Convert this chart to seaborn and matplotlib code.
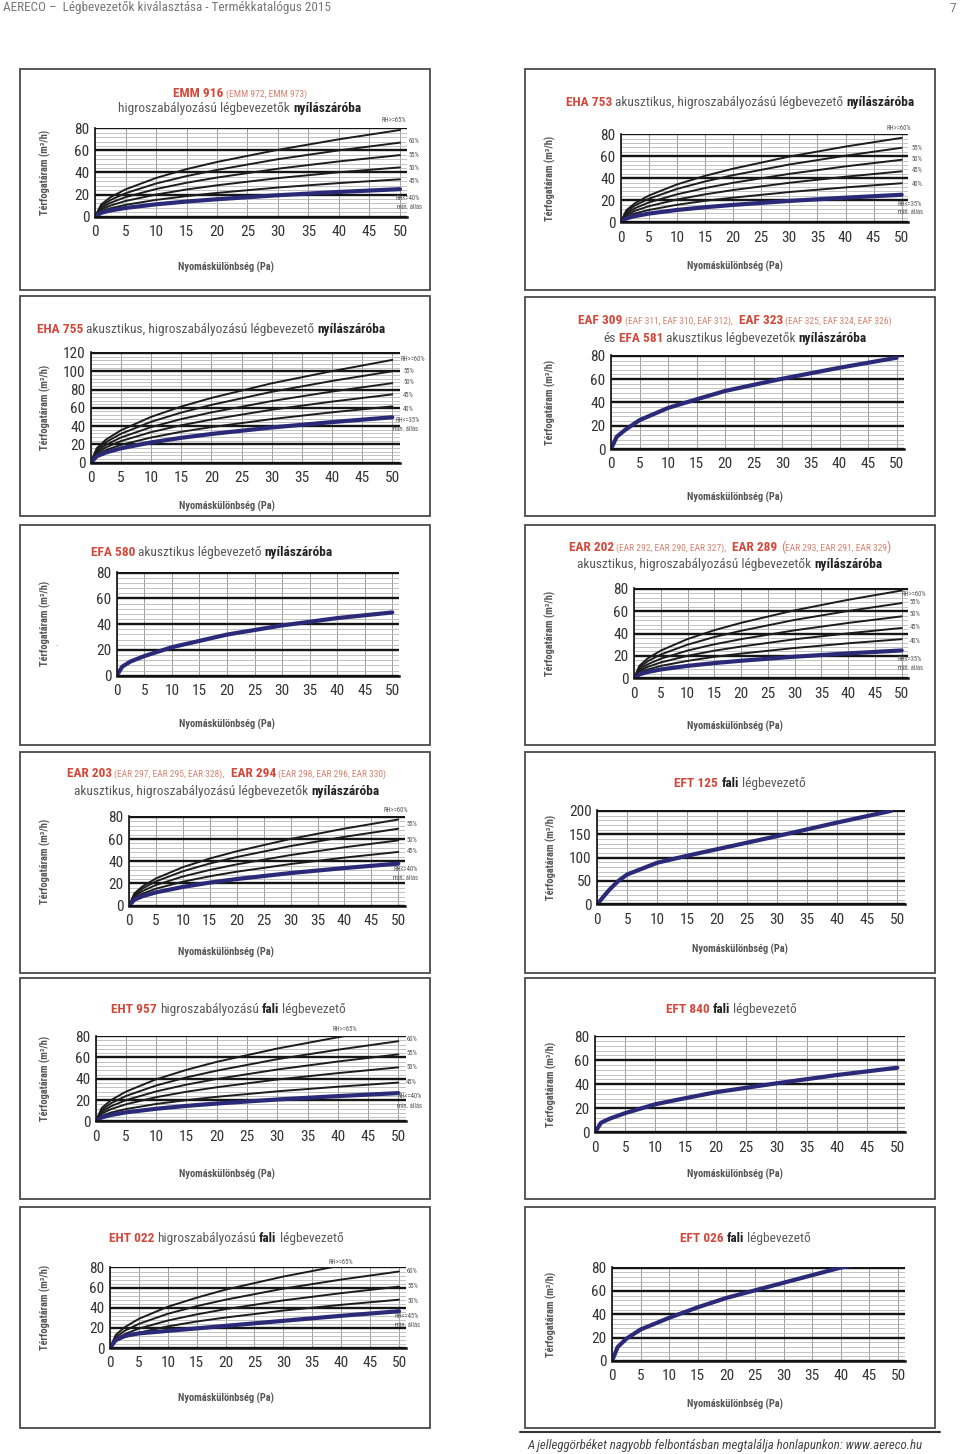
#!/usr/bin/env python
'''
Aereco catalogue page 7: airflow vs pressure difference curves of the air inlets.
'''
import matplotlib
matplotlib.use('Agg')
import matplotlib.pyplot as plt
from matplotlib import font_manager
from matplotlib.lines import Line2D
from matplotlib.patches import Rectangle
from matplotlib.ticker import MultipleLocator
import seaborn as sns

W, H = 960, 1454

P = [0, 1, 2.5, 5, 10, 15, 20, 30, 40, 50]

# EMM 916
EMM916_BLACK = [[0, 11, 17.5, 24.7, 35, 43, 49.5, 60.5, 70, 78.4],
                [0, 9.5, 15, 21.2, 30, 36.7, 42.3, 52, 60, 67],
                [0, 7.9, 12.5, 17.7, 25, 30.7, 35.4, 43.4, 50, 55.7],
                [0, 6.4, 10, 14.2, 20, 24.6, 28.4, 34.9, 40.2, 44.6],
                [0, 4.8, 7.6, 10.7, 15.2, 18.6, 21.5, 26.4, 30.4, 33.8]]
EMM916_BLUE = [0, 3.5, 5.6, 7.9, 11.2, 13.7, 15.8, 19.4, 22.4, 24.9]
EMM916_TAGS = ['RH>=65%', '60%', '55%', '50%', '45%', 'RH<=40%', 'min. állás']

# EHA 753
EHA753_BLACK = [[0, 10.9, 17.2, 24.3, 34.4, 42.2, 48.7, 59.7, 68.8, 76.7],
                [0, 9.5, 15.2, 21.4, 30.3, 37.1, 42.8, 52.5, 60.5, 67.7],
                [0, 8, 12.7, 18, 25.4, 31.1, 35.9, 44, 50.8, 56.8],
                [0, 6.5, 10.4, 14.6, 20.7, 25.4, 29.3, 35.9, 41.4, 46.3],
                [0, 5, 8, 11.2, 15.9, 19.5, 22.4, 27.5, 31.7, 35.5]]
EHA753_BLUE = [0, 3.5, 5.6, 7.9, 11.2, 13.7, 15.8, 19.4, 22.4, 25]
EHA753_TAGS = ['RH>=60%', '55%', '50%', '45%', '40%', 'RH<=35%', 'min. állás']

# EHA 755
EHA755_BLACK = [[0, 15.8, 25.1, 35.4, 50.1, 61.4, 70.8, 86.8, 100.1, 112.4],
                [0, 14.1, 22.4, 31.6, 44.7, 54.8, 63.2, 77.5, 89.4, 100],
                [0, 12.3, 19.5, 27.5, 38.9, 47.7, 55, 67.4, 77.8, 87],
                [0, 10.5, 16.7, 23.6, 33.4, 40.9, 47.2, 57.9, 66.8, 74.7],
                [0, 8.7, 13.8, 19.5, 27.5, 33.8, 38.9, 47.7, 55.1, 61.6]]
EHA755_BLUE = [0, 7, 11.1, 15.7, 22.2, 27.2, 31.4, 38.5, 44.4, 49.7]
EHA755_TAGS = ['RH>=60%', '55%', '50%', '45%', '40%', 'RH<=35%', 'min. állás']

# EAF 309 / EAF 323 / EFA 581
EAF309_BLUE = [0, 10.5, 16.5, 24.8, 35.3, 42.7, 49.9, 60.4, 69.8, 78.4]

# EFA 580
EFA580_BLUE = [0, 7, 11, 15.2, 22.1, 27, 31.9, 39, 44.7, 49.1]

# EAR 202 / EAR 289
EAR202_BLACK = [[0, 11.1, 17.6, 24.8, 35.1, 43, 49.6, 60.8, 70.2, 78.5],
                [0, 9.5, 15.1, 21.3, 30.1, 36.9, 42.5, 52.2, 60.2, 67.3],
                [0, 7.8, 12.4, 17.5, 24.8, 30.4, 35, 42.9, 49.5, 55.4],
                [0, 6.4, 10.1, 14.2, 20.1, 24.7, 28.4, 34.9, 40.2, 45],
                [0, 4.9, 7.8, 11.1, 15.6, 19.2, 22.1, 27.1, 31.3, 35]]
EAR202_BLUE = [0, 3.5, 5.6, 7.9, 11.1, 13.6, 15.7, 19.3, 22.3, 24.9]
EAR202_TAGS = ['RH>=60%', '55%', '50%', '45%', '40%', 'RH<=35%', 'min. állás']

# EAR 203 / EAR 294
EAR203_BLACK = [[0, 11, 17.4, 24.5, 34.7, 42.5, 49, 60.1, 69.4, 77.6],
                [0, 9.8, 15.5, 21.9, 31, 38, 43.8, 53.7, 62, 69.3],
                [0, 8.3, 13.2, 18.6, 26.3, 32.2, 37.2, 45.6, 52.6, 58.8],
                [0, 6.8, 10.8, 15.3, 21.6, 26.5, 30.6, 37.5, 43.3, 48.4]]
EAR203_BLUE = [0, 5.4, 8.5, 12, 16.9, 20.8, 24, 29.4, 33.9, 37.9]
EAR203_TAGS = ['RH>=60%', '55%', '50%', '45%', 'RH<=40%', 'min. állás']

# EFT 125 (read at its own pressure points, curve stops at 49 Pa)
EFT125_P = [0, 1, 2, 3.5, 5, 10, 15, 20, 30, 40, 49]
EFT125_BLUE = [0, 16, 31, 50, 64, 89, 104, 118, 146, 175, 200]

# EHT 957
EHT957_BLACK = [[0, 12.5, 19.8, 27.9, 39.5, 48.4, 55.9, 68.4, 79, 88.3],
                [0, 10.6, 16.9, 23.8, 33.7, 41.3, 47.6, 58.4, 67.3, 75.3],
                [0, 8.9, 14.1, 19.9, 28.1, 34.5, 39.8, 48.7, 56.2, 62.9],
                [0, 7.2, 11.4, 16, 22.7, 27.8, 32, 39.3, 45.3, 50.7],
                [0, 5.1, 8.2, 11.5, 16.3, 19.9, 23, 28.2, 32.5, 36.4]]
EHT957_BLUE = [0, 3.7, 5.9, 8.4, 11.8, 14.5, 16.7, 20.5, 23.7, 26.5]
EHT957_TAGS = ['RH>=65%', '60%', '55%', '50%', '45%', 'RH<=40%', 'min. állás']

# EFT 840
EFT840_BLUE = [0, 8, 11.5, 16, 23.4, 28.5, 33.4, 40.8, 47.7, 53.8]

# EHT 022
EHT022_BLACK = [[0, 13, 20.5, 29, 41, 50, 58, 71, 82, 91.8],
                [0, 10.7, 17, 24, 34, 41.6, 48, 59, 68, 76],
                [0, 8.6, 13.7, 19.3, 27.3, 33.4, 38.6, 47.3, 54.5, 61],
                [0, 6.8, 10.7, 15.2, 21.5, 26.3, 30.3, 37.2, 42.9, 48]]
EHT022_BLUE = [0, 8, 12, 14.5, 17, 19.5, 22, 27, 32, 36.5]
EHT022_TAGS = ['RH>=65%', '60%', '55%', '50%', 'RH<=45%', 'min. állás']

# EFT 026
EFT026_BLUE = [0, 12, 19, 27, 37, 46, 54, 67, 80, 91]

RED = '#d4483a'
PALE = '#d9826f'
GREY = '#585858'
DARK = '#222222'
BLUE = '#2b2a78'

YLABEL = 'Térfogatáram (m³/h)'
XLABEL = 'Nyomáskülönbség (Pa)'

sns.set_theme(style='white')
names = {f.name for f in font_manager.fontManager.ttflist}
FONT = 'Roboto'
for cand in ['Liberation Sans Narrow', 'Roboto Condensed', 'Open Sans Condensed', 'Noto Sans Display']:
    if cand in names:
        FONT = cand
        break
plt.rcParams['font.family'] = [FONT, 'DejaVu Sans']

BIG = 9.6
SMALL = 6.8


def hl(s):
    return (s, RED, 'bold', BIG)


def pl(s):
    return (s, PALE, 'normal', SMALL)


def gr(s):
    return (s, GREY, 'normal', BIG)


def bd(s):
    return (s, DARK, 'bold', BIG)


# layout: box = (px of 0 Pa, px of 50 Pa, px of y=0, px of y=ymax)
PANELS = [
    dict(frame=(20, 69, 430, 290), box=(95, 400, 216.7, 127.7), ymax=80, major=20, minor=4,
         black=EMM916_BLACK, blue=EMM916_BLUE, tags=EMM916_TAGS,
         tagpos=[(49, 86.8), (51.4, 68), (51.4, 55.7), (51.4, 44), (51.4, 32), (49.2, 16.8), (49.5, 8.7)],
         title=[(240, 92.7, [hl('EMM 916'), pl(' (EMM 972, EMM 973)')]),
                (240, 108, [gr('higroszabályozású légbevezetők '), bd('nyílászáróba')])],
         ylab=45, xlab=(226, 267)),
    dict(frame=(525, 69, 935, 290), box=(620.7, 901.7, 222.3, 133.7), ymax=80, major=20, minor=4,
         black=EHA753_BLACK, blue=EHA753_BLUE, tags=EHA753_TAGS,
         tagpos=[(49.5, 84.8), (51.8, 67.4), (51.8, 56.8), (51.8, 46.6), (51.8, 34.6), (49.3, 16.5), (49.3, 8.7)],
         title=[(740, 101.7, [hl('EHA 753'), gr(' akusztikus, higroszabályozású légbevezető '), bd('nyílászáróba')])],
         ylab=550, xlab=(735, 266)),
    dict(frame=(20, 296, 430, 516), box=(90.7, 392.3, 462.7, 352.3), ymax=120, major=20, minor=4,
         black=EHA755_BLACK, blue=EHA755_BLUE, tags=EHA755_TAGS,
         tagpos=[(51.3, 112.8), (51.8, 99.7), (51.8, 88), (51.8, 73.6), (51.8, 58.7), (50.5, 45.7), (50.1, 35.9)],
         title=[(211, 329.3, [hl('EHA 755'), gr(' akusztikus, higroszabályozású légbevezető '), bd('nyílászáróba')])],
         ylab=45, xlab=(227, 506.7)),
    dict(frame=(525, 297, 935, 516), box=(611, 896.7, 449, 355.3), ymax=80, major=20, minor=4,
         black=[], blue=EAF309_BLUE, tags=[], tagpos=[],
         title=[(735, 320, [hl('EAF 309'), pl(' (EAF 311, EAF 310, EAF 312),'), hl('  EAF 323'),
                            pl(' (EAF 325, EAF 324, EAF 326)')]),
                (735, 338.3, [gr('és '), hl('EFA 581'), gr(' akusztikus légbevezetők '), bd('nyílászáróba')])],
         ylab=550, xlab=(735, 497.7)),
    dict(frame=(20, 525, 430, 745), box=(116.7, 392.3, 675.7, 572), ymax=80, major=20, minor=4,
         black=[], blue=EFA580_BLUE, tags=[], tagpos=[],
         title=[(211.7, 551.7, [hl('EFA 580'), gr(' akusztikus légbevezető '), bd('nyílászáróba')])],
         ylab=45, xlab=(226.7, 724.3)),
    dict(frame=(525, 525, 935, 745), box=(634, 901.7, 678.3, 588.3), ymax=80, major=20, minor=4,
         black=EAR202_BLACK, blue=EAR202_BLUE, tags=EAR202_TAGS,
         tagpos=[(49.9, 75), (51.5, 67.6), (51.5, 56.9), (51.5, 45), (51.5, 32.6), (49.3, 16.6), (49.3, 8.9)],
         title=[(730, 546.7, [hl('EAR 202'), pl(' (EAR 292, EAR 290, EAR 327),'), hl('  EAR 289'),
                              (' (', PALE, 'normal', BIG), pl('EAR 293, EAR 291, EAR 329'), (')', PALE, 'normal', BIG)]),
                (730, 564, [gr('akusztikus, higroszabályozású légbevezetők '), bd('nyílászáróba')])],
         ylab=550, xlab=(735, 726.3)),
    dict(frame=(20, 752, 430, 973), box=(129, 398.3, 905.7, 816.3), ymax=80, major=20, minor=4,
         black=EAR203_BLACK, blue=EAR203_BLUE, tags=EAR203_TAGS,
         tagpos=[(49.5, 85.7), (51.6, 72.8), (51.6, 58.8), (51.6, 48.4), (49.1, 32.8), (49.1, 24.8)],
         title=[(226.7, 772.7, [hl('EAR 203'), pl(' (EAR 297, EAR 295, EAR 328),'), hl('  EAR 294'),
                                pl(' (EAR 298, EAR 296, EAR 330)')]),
                (226.7, 790.7, [gr('akusztikus, higroszabályozású légbevezetők '), bd('nyílászáróba')])],
         ylab=45, xlab=(226, 952.7)),
    dict(frame=(525, 752, 935, 973), box=(597.3, 897.3, 904.3, 810.3), ymax=200, major=50, minor=10,
         black=[], blue=EFT125_BLUE, bluex=EFT125_P, tags=[], tagpos=[],
         title=[(740, 783.3, [hl('EFT 125'), bd(' fali'), gr(' légbevezető')])],
         ylab=551.7, xlab=(740, 949.3)),
    dict(frame=(20, 978, 430, 1199), box=(95.7, 398.3, 1121.3, 1035.7), ymax=80, major=20, minor=4,
         black=EHT957_BLACK, blue=EHT957_BLUE, tags=EHT957_TAGS,
         tagpos=[(41.2, 86.5), (51.3, 76.6), (51.3, 64.1), (51.3, 50.4), (51.3, 36.1), (49.8, 23.3), (49.8, 14)],
         title=[(228.3, 1008.7, [hl('EHT 957'), gr(' higroszabályozású '), bd('fali'), gr(' légbevezető')])],
         ylab=45, xlab=(227, 1174.7)),
    dict(frame=(525, 978, 935, 1199), box=(595, 897.3, 1132.3, 1035.7), ymax=80, major=20, minor=4,
         black=[], blue=EFT840_BLUE, tags=[], tagpos=[],
         title=[(731.7, 1008.7, [hl('EFT 840'), bd(' fali'), gr(' légbevezető')])],
         ylab=551.7, xlab=(735, 1174)),
    dict(frame=(20, 1207, 430, 1428), box=(110, 399, 1348, 1267), ymax=80, major=20, minor=4,
         black=EHT022_BLACK, blue=EHT022_BLUE, tags=EHT022_TAGS,
         tagpos=[(40, 85), (51.4, 76), (51.4, 61), (51.4, 46), (49.3, 31.6), (49.3, 22.7)],
         title=[(226, 1238, [hl('EHT 022'), gr(' higroszabályozású '), bd('fali'), gr(' légbevezető')])],
         ylab=45, xlab=(226, 1398)),
    dict(frame=(525, 1207, 935, 1428), box=(612, 898, 1361, 1267), ymax=80, major=20, minor=4,
         black=[], blue=EFT026_BLUE, tags=[], tagpos=[],
         title=[(745, 1238, [hl('EFT 026'), bd(' fali'), gr(' légbevezető')])],
         ylab=551, xlab=(735, 1404)),
]

XEXT = 1.2

fig = plt.figure(figsize=(W / 100, H / 100), dpi=100)
renderer = fig.canvas.get_renderer()


def fx(x):
    return x / W


def fy(y):
    return 1 - y / H


def text_width(s, size, weight):
    t = fig.text(0, 0, s, fontsize=size, fontweight=weight)
    w = t.get_window_extent(renderer).width
    t.remove()
    return w


def rich_line(cx, cy, parts):
    '''
    Write a line made of differently styled pieces, centred on cx.
    '''
    pieces = []
    total = 0
    for s, color, weight, size in parts:
        core = s.strip(' ')
        lead = len(s) - len(s.lstrip(' '))
        trail = len(s) - len(s.rstrip(' '))
        sp = text_width('x x', size, weight) - text_width('xx', size, weight)
        w = text_width(core, size, weight)
        pieces.append((core, color, weight, size, total + lead * sp))
        total += lead * sp + w + trail * sp
    x = cx - total / 2
    for core, color, weight, size, off in pieces:
        fig.text(fx(x + off), fy(cy + 4), core, color=color, fontweight=weight,
                 fontsize=size, ha='left', va='baseline')


def draw_panel(spec):
    l, t, r, b = spec['frame']
    fig.add_artist(Rectangle((fx(l), fy(b)), (r - l) / W, (b - t) / H, transform=fig.transFigure,
                             fill=False, ec='#4a4a4a', lw=1.3))
    x0, x50, y0, ytop = spec['box']
    unit = (x50 - x0) / 50
    right = x50 + XEXT * unit
    ax = fig.add_axes([fx(x0), fy(y0), (right - x0) / W, (y0 - ytop) / H])
    ymax = spec['ymax']
    ax.set_xlim(0, 50 + XEXT)
    ax.set_ylim(0, ymax * 1.006)
    ax.set_facecolor('white')
    ax.set_xticks(range(0, 51, 5))
    ax.set_yticks(range(0, ymax + 1, spec['major']))
    ax.yaxis.set_minor_locator(MultipleLocator(spec['minor']))
    ax.grid(axis='x', which='major', color='#9c9c9c', lw=0.7)
    ax.grid(axis='y', which='minor', color='#b8b8b8', lw=0.6)
    ax.grid(axis='y', which='major', color='#151515', lw=1.7)
    ax.set_axisbelow(True)
    ax.tick_params(which='both', length=0, labelsize=11, labelcolor='#333333')
    ax.tick_params(axis='x', pad=6)
    ax.tick_params(axis='y', pad=4)
    for side in ['top', 'right']:
        ax.spines[side].set_visible(False)
    ax.spines['left'].set_color('#111111')
    ax.spines['left'].set_linewidth(1.2)
    ax.spines['bottom'].set_color('#111111')
    ax.spines['bottom'].set_linewidth(1.8)

    for curve in spec['black']:
        sns.lineplot(x=P, y=curve, ax=ax, color='#1c1c1c', linewidth=1.4, legend=False)
    sns.lineplot(x=spec.get('bluex', P), y=spec['blue'], ax=ax, color=BLUE, linewidth=3,
                 legend=False, solid_capstyle='round')
    ax.set_xlabel('')
    ax.set_ylabel('')

    for i, (tag, (tx, ty)) in enumerate(zip(spec['tags'], spec['tagpos'])):
        ha = 'center' if i == 0 and ty > ymax else 'left'
        ax.text(tx, ty, tag, fontsize=4.8, color='#555555', ha=ha, va='center', clip_on=False)

    for cx, cy, parts in spec['title']:
        rich_line(cx, cy, parts)
    fig.text(fx(spec['ylab']), fy((y0 + ytop) / 2), YLABEL, rotation=90, ha='center', va='center',
             fontsize=7.5, fontweight='bold', color='#555555')
    xx, xy = spec['xlab']
    fig.text(fx(xx), fy(xy), XLABEL, ha='center', va='center', fontsize=7.5,
             fontweight='bold', color='#555555')


for spec in PANELS:
    draw_panel(spec)

# stray dash next to the EFA 580 axis title
fig.text(fx(56.7), fy(647), '-', fontsize=5, color='#888888', ha='center', va='center')

# page header and footer
fig.text(fx(3), fy(8), 'AERECO –  Légbevezetők kiválasztása - Termékkatalógus 2015', fontsize=9.5,
         color='#777777', ha='left', va='center')
fig.text(fx(956), fy(8), '7', fontsize=9.5, color='#777777', ha='right', va='center')
fig.add_artist(Line2D([fx(520), fx(940)], [fy(1432), fy(1432)], transform=fig.transFigure,
                      color='#333333', lw=1.5))
fig.text(fx(527), fy(1446), 'A jelleggörbéket nagyobb felbontásban megtalálja honlapunkon: www.aereco.hu',
         fontsize=9.3, fontstyle='italic', color='#444444', ha='left', va='center')

fig.savefig('out.png', dpi=100, facecolor='white')
